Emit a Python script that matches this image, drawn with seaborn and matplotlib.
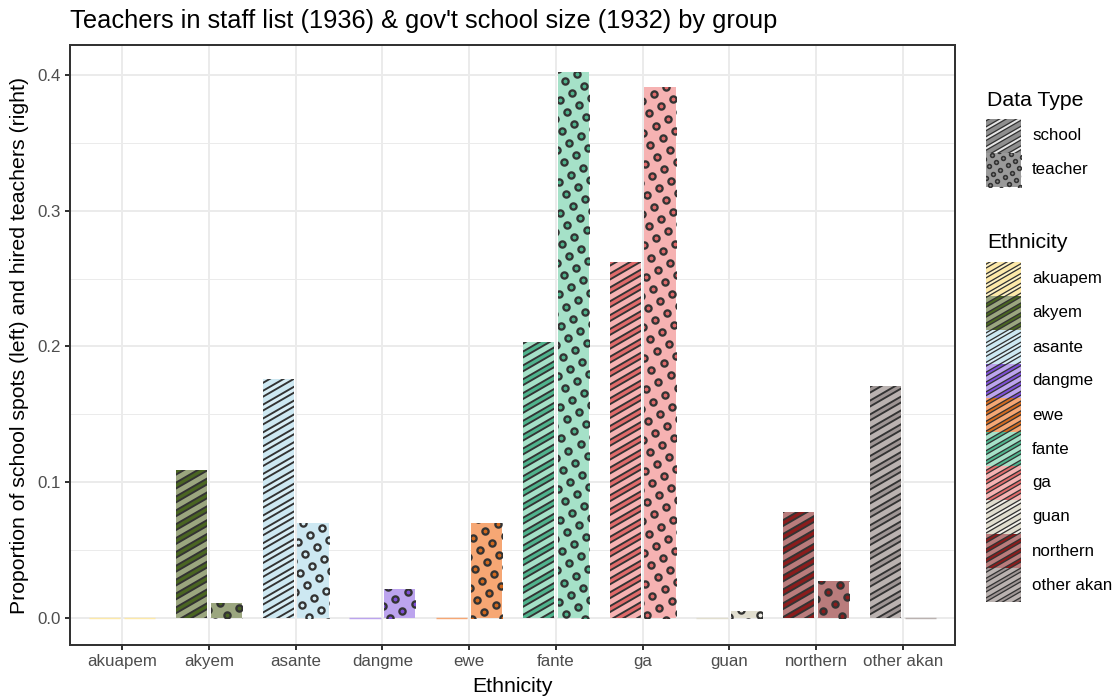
import numpy as np
import pandas as pd
import matplotlib
matplotlib.use("Agg")
import matplotlib.pyplot as plt
import seaborn as sns
from matplotlib.collections import LineCollection
from matplotlib.patches import Rectangle
from matplotlib.lines import Line2D
from matplotlib.transforms import IdentityTransform

# ---- data -------------------------------------------------------------
ethnicities = ["akuapem", "akyem", "asante", "dangme", "ewe",
               "fante", "ga", "guan", "northern", "other akan"]
school_share = [0.0, 0.109, 0.176, 0.0, 0.0, 0.203, 0.262, 0.0, 0.078, 0.171]
teacher_share = [0.0, 0.011, 0.070, 0.021, 0.070, 0.402, 0.391, 0.005, 0.027, 0.0]
data_types = ["school", "teacher"]

# ---- styling ----------------------------------------------------------
fill_colors = ["#FDE9A9", "#9BA67F", "#CDE8F2", "#BCA4EE", "#F6A774",
               "#A5E1C8", "#F6B2B2", "#E1DECF", "#B97C7C", "#BAB2B0"]
pattern_colors = ["#FFF2C4", "#4A6522", "#D8EEF6", "#7D4FD6", "#D2691E",
                  "#4FB38D", "#E06A6A", "#F2F0E8", "#8B1C1C", "#9E9594"]
type_fill = {"school": "#8F8F8F", "teacher": "#9A9A9A"}
type_pattern = {"school": "#E6E6E6", "teacher": "#8A8A8A"}
DARK = "#333333"

W, H, DPI = 1119, 698, 100
PX = 72.0 / DPI  # points per pixel

sns.set_theme(style="white")
plt.rcParams["font.family"] = ["Liberation Sans", "DejaVu Sans"]

df = pd.DataFrame({
    "ethnicity": ethnicities * 2,
    "share": school_share + teacher_share,
    "type": ["school"] * len(ethnicities) + ["teacher"] * len(ethnicities),
})

fig = plt.figure(figsize=(W / DPI, H / DPI), dpi=DPI)
fig.patch.set_facecolor("white")
ax = fig.add_axes([70 / W, 1 - 645 / H, 885 / W, 600 / H])

sns.barplot(data=df, x="ethnicity", y="share", hue="type",
            order=ethnicities, hue_order=data_types,
            width=0.8, gap=0.1, errorbar=None, legend=False,
            saturation=1, ax=ax)

ymax = max(school_share + teacher_share)
ax.set_xlim(-0.6, len(ethnicities) - 0.4)
ax.set_ylim(-0.05 * ymax, ymax * 1.05)

# ---- axes look (theme_bw-like) ---------------------------------------
ax.set_facecolor("white")
ax.set_yticks(np.arange(0, 0.41, 0.1))
ax.set_yticks(np.arange(0.05, 0.41, 0.1), minor=True)
ax.set_yticklabels([f"{v:.1f}" for v in np.arange(0, 0.41, 0.1)])
ax.set_axisbelow(True)
ax.grid(which="major", color="#EBEBEB", linewidth=2.0 * PX)
ax.grid(which="minor", axis="y", color="#EBEBEB", linewidth=1.0 * PX)
for sp in ax.spines.values():
    sp.set_visible(True)
    sp.set_color(DARK)
    sp.set_linewidth(2.0 * PX)
ax.tick_params(which="major", length=5.3 * PX, width=2.0 * PX, color=DARK,
               labelcolor="#4D4D4D", labelsize=12.2, pad=4 * PX,
               bottom=True, left=True)
ax.tick_params(which="minor", length=0)

ax.set_xlabel("Ethnicity", fontsize=15.3, color="black")
ax.set_ylabel("Proportion of school spots (left) and hired teachers (right)",
              fontsize=15.3, color="black")
ax.xaxis.set_label_coords(0.5, -(686 - 645) / 600)
ax.xaxis.label.set_va("center")
ax.yaxis.set_label_coords(-(70 - 20) / 885, 0.5)
ax.yaxis.label.set_va("center")

fig.text(70 / W, 1 - 28 / H,
         "Teachers in staff list (1936) & gov't school size (1932) by group",
         ha="left", va="baseline", fontsize=18.3, color="black")


# ---- pattern helpers (display coordinates) ---------------------------
def _dirs(angle):
    th = np.deg2rad(angle)
    return np.array([np.cos(th), np.sin(th)]), np.array([-np.sin(th), np.cos(th)])


def _corners(bb):
    return np.array([[bb.x0, bb.y0], [bb.x1, bb.y0], [bb.x0, bb.y1], [bb.x1, bb.y1]])


def stripe_segments(bb, angle, spacing):
    d, n = _dirs(angle)
    c = _corners(bb)
    pn, pdd = c @ n, c @ d
    k0 = int(np.floor(pn.min() / spacing)) - 1
    k1 = int(np.ceil(pn.max() / spacing)) + 1
    t0, t1 = pdd.min() - 10, pdd.max() + 10
    return [[k * spacing * n + t0 * d, k * spacing * n + t1 * d] for k in range(k0, k1 + 1)]


def lattice_points(bb, angle, spacing):
    d, n = _dirs(angle)
    c = _corners(bb)
    i0, i1 = int(np.floor((c @ d).min() / spacing)) - 1, int(np.ceil((c @ d).max() / spacing)) + 1
    j0, j1 = int(np.floor((c @ n).min() / spacing)) - 1, int(np.ceil((c @ n).max() / spacing)) + 1
    pts = []
    for i in range(i0, i1 + 1):
        for j in range(j0, j1 + 1):
            p = i * spacing * d + j * spacing * n
            if bb.x0 - spacing < p[0] < bb.x1 + spacing and bb.y0 - spacing < p[1] < bb.y1 + spacing:
                pts.append(p)
    return np.array(pts)


def add_stripes(container, clip, color, angle, spacing, outer_px, inner_px, z):
    segs = stripe_segments(clip.get_extents(), angle, spacing)
    for lw, c, dz in ((outer_px, DARK, 0.0), (inner_px, color, 0.01)):
        lc = LineCollection(segs, colors=c, linewidths=lw * PX,
                            transform=IdentityTransform(), capstyle="butt", zorder=z + dz)
        container(lc)
        lc.set_clip_path(clip)


def add_dots(container, clip, color, angle, spacing, outer_px, ring_px, z):
    pts = lattice_points(clip.get_extents(), angle, spacing)
    if len(pts) == 0:
        return
    ln = Line2D(pts[:, 0], pts[:, 1], linestyle="none", marker="o",
                markersize=(outer_px - ring_px) * PX, markeredgewidth=ring_px * PX,
                markeredgecolor=DARK, markerfacecolor=color,
                transform=IdentityTransform(), zorder=z)
    container(ln)
    ln.set_clip_path(clip)


# ---- colour and pattern every bar ------------------------------------
axadd = lambda a: ax.add_artist(a)
for t_idx, cont in enumerate(ax.containers):
    dtype = data_types[t_idx]
    for bar in cont:
        cat = int(round(bar.get_x() + bar.get_width() / 2))
        fc = fill_colors[cat]
        bar.set_facecolor(fc)
        bar.set_zorder(2)
        if bar.get_height() == 0:
            bar.set_edgecolor(fc)
            bar.set_linewidth(1.4 * PX)
            continue
        bar.set_edgecolor("none")
        bar.set_linewidth(0)
        if dtype == "school":
            add_stripes(axadd, bar, pattern_colors[cat], 30, 12.0, 7.0, 3.2, 3)
        else:
            add_dots(axadd, bar, pattern_colors[cat], 30, 14.0, 8.5, 2.3, 3)


# ---- legends drawn in pixel space ------------------------------------
def key_rect(x, y, w, h, fc):
    r = Rectangle((x, H - y - h), w, h, facecolor=fc, edgecolor="none",
                  transform=IdentityTransform(), zorder=5)
    fig.add_artist(r)
    return r


KEY_X, KEY_W, KEY_H, LABEL_X = 986, 35, 34, 1032
fadd = lambda a: fig.add_artist(a)

fig.text(987 / W, 1 - 100 / H, "Data Type", ha="left", va="center",
         fontsize=15.3, color="black")
y0 = 119
for i, dtype in enumerate(data_types):
    ky = y0 + i * KEY_H
    r = key_rect(KEY_X, ky, KEY_W, KEY_H, type_fill[dtype])
    if dtype == "school":
        add_stripes(fadd, r, type_pattern[dtype], 30, 8.5, 4.6, 2.0, 6)
    else:
        add_dots(fadd, r, type_pattern[dtype], 30, 8.5, 5.4, 1.6, 6)
    fig.text(LABEL_X / W, 1 - (ky + KEY_H / 2) / H, dtype, ha="left",
             va="center", fontsize=12.2, color="black")

fig.text(987 / W, 1 - 242 / H, "Ethnicity", ha="left", va="center",
         fontsize=15.3, color="black")
y0 = 262
for i, eth in enumerate(ethnicities):
    ky = y0 + i * KEY_H
    r = key_rect(KEY_X, ky, KEY_W, KEY_H, fill_colors[i])
    add_stripes(fadd, r, pattern_colors[i], 30, 8.5, 4.6, 2.0, 6)
    fig.text(LABEL_X / W, 1 - (ky + KEY_H / 2) / H, eth, ha="left",
             va="center", fontsize=12.2, color="black")

fig.savefig("out.png", dpi=DPI, facecolor="white")
